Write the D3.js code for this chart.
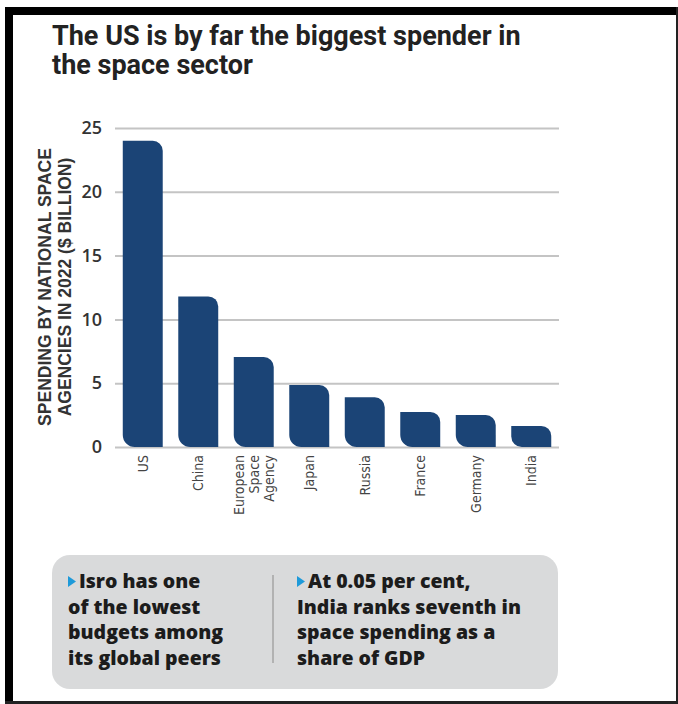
<!DOCTYPE html>
<html>
<head>
<meta charset="utf-8">
<script src="https://cdnjs.cloudflare.com/ajax/libs/d3/7.8.5/d3.min.js"></script>
<style>
  body { margin: 0; background: #fff; }
  svg { display: block; }
</style>
</head>
<body>
<div id="chart"></div>
<script>
var agencies = ['US', 'China', 'European Space Agency', 'Japan', 'Russia', 'France', 'Germany', 'India'];
var agencyLines = [['US'], ['China'], ['European', 'Space', 'Agency'], ['Japan'], ['Russia'], ['France'], ['Germany'], ['India']];
var spending = [24.0, 11.8, 7.05, 4.85, 3.9, 2.75, 2.5, 1.65];
var yTicks = [0, 5, 10, 15, 20, 25];
var titleLines = ['The US is by far the biggest spender in', 'the space sector'];
var yLabelLines = ['SPENDING BY NATIONAL SPACE', 'AGENCIES IN 2022 ($ BILLION)'];
var noteLeft = ['Isro has one', 'of the lowest', 'budgets among', 'its global peers'];
var noteRight = ['At 0.05 per cent,', 'India ranks seventh in', 'space spending as a', 'share of GDP'];

var W = 678, H = 704;
var plot = { left: 115, right: 559, top: 128, bottom: 447 };
var barColor = '#1b4476';

var svg = d3.select('#chart').append('svg')
  .attr('width', W)
  .attr('height', H);

// frame
svg.append('rect').attr('x', 5).attr('y', 7).attr('width', 8).attr('height', H - 7).attr('fill', '#000');
svg.append('rect').attr('x', 5).attr('y', 7).attr('width', W - 5).attr('height', 8).attr('fill', '#000');
svg.append('rect').attr('x', 676).attr('y', 7).attr('width', 2).attr('height', H - 7).attr('fill', '#222');
svg.append('rect').attr('x', 5).attr('y', 701).attr('width', W - 5).attr('height', 3).attr('fill', '#222');

// title
svg.append('g')
  .selectAll('text')
  .data(titleLines)
  .enter()
  .append('text')
  .attr('x', 52)
  .attr('y', function (d, i) { return 45 + i * 29; })
  .attr('fill', '#222')
  .style('font-family', 'Roboto, "Liberation Sans", sans-serif')
  .style('font-weight', 700)
  .style('font-size', '27px')
  .text(function (d) { return d; });

var x = d3.scaleBand()
  .domain(agencies)
  .range([plot.left, plot.right])
  .paddingInner(0.28)
  .paddingOuter(0.14);

var y = d3.scaleLinear()
  .domain([0, 25])
  .range([plot.bottom, plot.top]);

// grid + y ticks
var gy = svg.append('g')
  .attr('transform', 'translate(' + plot.left + ',0)')
  .call(d3.axisLeft(y)
    .tickValues(yTicks)
    .tickSize(-(plot.right - plot.left))
    .tickPadding(13));
gy.select('.domain').remove();
gy.selectAll('.tick line')
  .attr('stroke', '#c4c4c4')
  .attr('stroke-width', 2);
gy.selectAll('.tick text')
  .attr('fill', '#333')
  .style('font-family', '"Open Sans", sans-serif')
  .style('font-weight', 600)
  .style('font-size', '18px');

// bars: square top-left / bottom-right, rounded top-right / bottom-left
function leafBar(x0, y0, w, h, rTop, rBottom) {
  rTop = Math.min(rTop, h / 2, w / 2);
  rBottom = Math.min(rBottom, h / 2, w / 2);
  return 'M' + x0 + ',' + y0 +
    'H' + (x0 + w - rTop) +
    'A' + rTop + ',' + rTop + ' 0 0 1 ' + (x0 + w) + ',' + (y0 + rTop) +
    'V' + (y0 + h) +
    'H' + (x0 + rBottom) +
    'A' + rBottom + ',' + rBottom + ' 0 0 1 ' + x0 + ',' + (y0 + h - rBottom) +
    'Z';
}

svg.append('g')
  .selectAll('path')
  .data(agencies)
  .enter()
  .append('path')
  .attr('fill', barColor)
  .attr('d', function (d, i) {
    var top = y(spending[i]);
    return leafBar(x(d), top, x.bandwidth(), y(0) - top, 10, 12);
  });

// x labels, rotated
var gx = svg.append('g')
  .attr('transform', 'translate(0,' + plot.bottom + ')')
  .call(d3.axisBottom(x).tickSize(0));
gx.select('.domain').remove();
gx.selectAll('.tick text').remove();
gx.selectAll('.tick')
  .append('text')
  .attr('transform', 'translate(0,8) rotate(-90)')
  .attr('text-anchor', 'end')
  .attr('fill', '#444')
  .style('font-family', '"Liberation Sans Narrow", "DejaVu Sans Condensed", sans-serif')
  .style('font-size', '14px')
  .each(function (d, i) {
    var lines = agencyLines[i];
    var t = d3.select(this);
    lines.forEach(function (line, j) {
      t.append('tspan')
        .attr('x', 0)
        .attr('y', (j - (lines.length - 1) / 2) * 15)
        .attr('dy', '0.35em')
        .text(line);
    });
  });

// y axis title
svg.append('text')
  .attr('transform', 'translate(51,287) rotate(-90)')
  .attr('text-anchor', 'middle')
  .attr('fill', '#333')
  .style('font-family', '"Liberation Sans", Arial, sans-serif')
  .style('font-weight', 700)
  .style('font-size', '17.5px')
  .selectAll('tspan')
  .data(yLabelLines)
  .enter()
  .append('tspan')
  .attr('x', 0)
  .attr('y', function (d, i) { return i * 20; })
  .text(function (d) { return d; });

// note box
var note = svg.append('g');
note.append('rect')
  .attr('x', 52).attr('y', 555)
  .attr('width', 506).attr('height', 134)
  .attr('rx', 18)
  .attr('fill', '#d9dadb');
note.append('line')
  .attr('x1', 273).attr('x2', 273)
  .attr('y1', 575).attr('y2', 663)
  .attr('stroke', '#a4a4a4')
  .attr('stroke-width', 1.5);

function noteColumn(lines, x0, bulletX) {
  note.append('path')
    .attr('d', 'M' + bulletX + ',576 L' + (bulletX + 8) + ',581.5 L' + bulletX + ',587 Z')
    .attr('fill', '#1e9ad9');
  note.append('g')
    .selectAll('text')
    .data(lines)
    .enter()
    .append('text')
    .attr('x', function (d, i) { return i === 0 ? bulletX + 11 : x0; })
    .attr('y', function (d, i) { return 588 + i * 25.5; })
    .attr('fill', '#1c1c1c')
    .style('font-family', '"Open Sans", sans-serif')
    .style('font-weight', 800)
    .style('font-size', '19.5px')
    .text(function (d) { return d; });
}
noteColumn(noteLeft, 68, 68);
noteColumn(noteRight, 297, 297);
</script>
</body>
</html>
